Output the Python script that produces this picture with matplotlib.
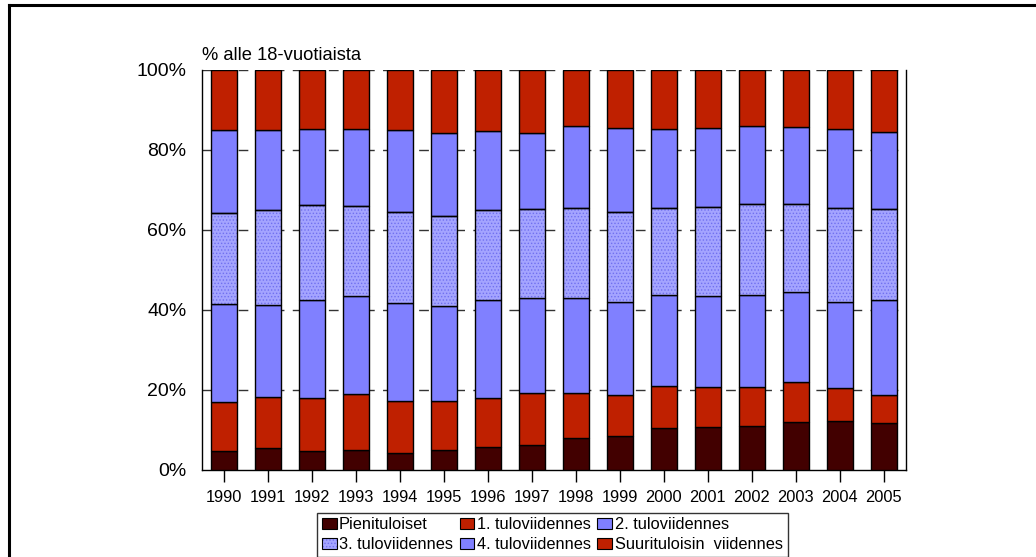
import matplotlib
matplotlib.use('Agg')
import matplotlib.pyplot as plt
from matplotlib.patches import Patch
from matplotlib.lines import Line2D
from matplotlib.legend_handler import HandlerTuple
import numpy as np

plt.rcParams['font.family'] = ['Liberation Sans', 'DejaVu Sans']
plt.rcParams['hatch.linewidth'] = 0.6

years = [str(y) for y in range(1990, 2006)]
pienituloiset = [4.8, 5.6, 4.8, 5.1, 4.2, 5.0, 5.7, 6.3, 8.1, 8.4, 10.5, 10.8, 11.1, 11.9, 12.3, 11.7]
viidennes_1 = [12.3, 12.65, 13.1, 13.8, 13.05, 12.2, 12.4, 12.95, 11.15, 10.4, 10.4, 9.95, 9.6, 10.1, 8.2, 7.0]
viidennes_2 = [24.4, 23.05, 24.6, 24.7, 24.5, 23.9, 24.3, 23.85, 23.75, 23.3, 22.85, 22.75, 23.0, 22.5, 21.6, 23.8]
viidennes_3 = [22.8, 23.7, 23.8, 22.3, 22.65, 22.5, 22.5, 22.15, 22.6, 22.5, 21.85, 22.2, 22.7, 22.1, 23.4, 22.75]
viidennes_4 = [20.6, 20.0, 19.0, 19.35, 20.6, 20.65, 19.9, 19.05, 20.4, 20.8, 19.6, 19.9, 19.6, 19.15, 19.75, 19.35]
suurituloisin = [15.1, 15.0, 14.7, 14.75, 15.0, 15.75, 15.2, 15.7, 14.0, 14.6, 14.8, 14.4, 14.0, 14.25, 14.75, 15.4]

labels = ['Pienituloiset', '1. tuloviidennes', '2. tuloviidennes',
          '3. tuloviidennes', '4. tuloviidennes', 'Suurituloisin  viidennes']
series = [pienituloiset, viidennes_1, viidennes_2, viidennes_3, viidennes_4, suurituloisin]
colors = ['#420000', '#bf2000', '#8080ff', '#a4a4ff', '#8080ff', '#bf2000']
hatched = [False, False, False, True, False, False]

W, H = 1036, 557
fig = plt.figure(figsize=(W / 100, H / 100), dpi=100)
ax = fig.add_axes([201.7 / W, 1 - 470 / H, (905.7 - 201.7) / W, 400 / H])

x = np.arange(len(years))
width = 0.6
bottom = np.zeros(len(years))
handles = []
for vals, col, hat, lab in zip(series, colors, hatched, labels):
    vals = np.array(vals)
    if hat:
        ax.bar(x, vals, width, bottom=bottom, color=col, edgecolor='#7070f0',
               hatch='.....', linewidth=0, zorder=3)
        ax.bar(x, vals, width, bottom=bottom, fill=False, edgecolor='black',
               linewidth=1.0, zorder=4)
        h = (Patch(facecolor=col, edgecolor='#7070f0', hatch='.....', linewidth=0),
             Patch(fill=False, edgecolor='black', linewidth=0.8))
    else:
        ax.bar(x, vals, width, bottom=bottom, color=col, edgecolor='black',
               linewidth=1.0, zorder=3)
        h = Patch(facecolor=col, edgecolor='black', linewidth=0.8)
    handles.append(h)
    bottom += vals

ax.set_xlim(-0.5, len(years) - 0.5)
ax.set_ylim(0, 100)
ax.set_yticks([0, 20, 40, 60, 80, 100])
ax.set_yticklabels(['0%', '20%', '40%', '60%', '80%', '100%'], fontsize=14)
ax.set_xticks(x)
ax.set_xticklabels(years, fontsize=11.8)
ax.tick_params(axis='y', length=0, pad=11)
ax.tick_params(axis='x', length=8.4, width=1, pad=6, direction='out')
for v in [20, 40, 60, 80, 100]:
    ax.axhline(v, color='#333333', linewidth=1.0, linestyle=(0, (7, 6)), zorder=1)
ax.spines['top'].set_visible(False)
for s in ['left', 'right', 'bottom']:
    ax.spines[s].set_linewidth(1.0)
    ax.spines[s].set_color('black')

fig.text(202 / W, 1 - 60 / H, '% alle 18-vuotiaista', fontsize=13.2,
         va='baseline', ha='left')

# outer frame
fig.add_artist(Line2D([8.5 / W, 8.5 / W], [0, 1 - 5 / H], transform=fig.transFigure,
                      color='black', linewidth=2.2, solid_capstyle='projecting'))
fig.add_artist(Line2D([8.5 / W, 1], [1 - 5 / H, 1 - 5 / H], transform=fig.transFigure,
                      color='black', linewidth=2.2, solid_capstyle='projecting'))

order = [0, 3, 1, 4, 2, 5]
leg = fig.legend([handles[i] for i in order], [labels[i] for i in order],
                 ncol=3, loc='upper left', bbox_to_anchor=(317 / W, 1 - 512.5 / H),
                 fontsize=11.8, frameon=True, fancybox=False, shadow=False,
                 handlelength=0.9, handleheight=0.7, handletextpad=0.15,
                 columnspacing=0.4, labelspacing=0.3, borderpad=0.3, borderaxespad=0,
                 handler_map={tuple: HandlerTuple(ndivide=1, pad=0)})
leg.get_frame().set_edgecolor('black')
leg.get_frame().set_linewidth(1.0)
fig.savefig('out.png', dpi=100)
